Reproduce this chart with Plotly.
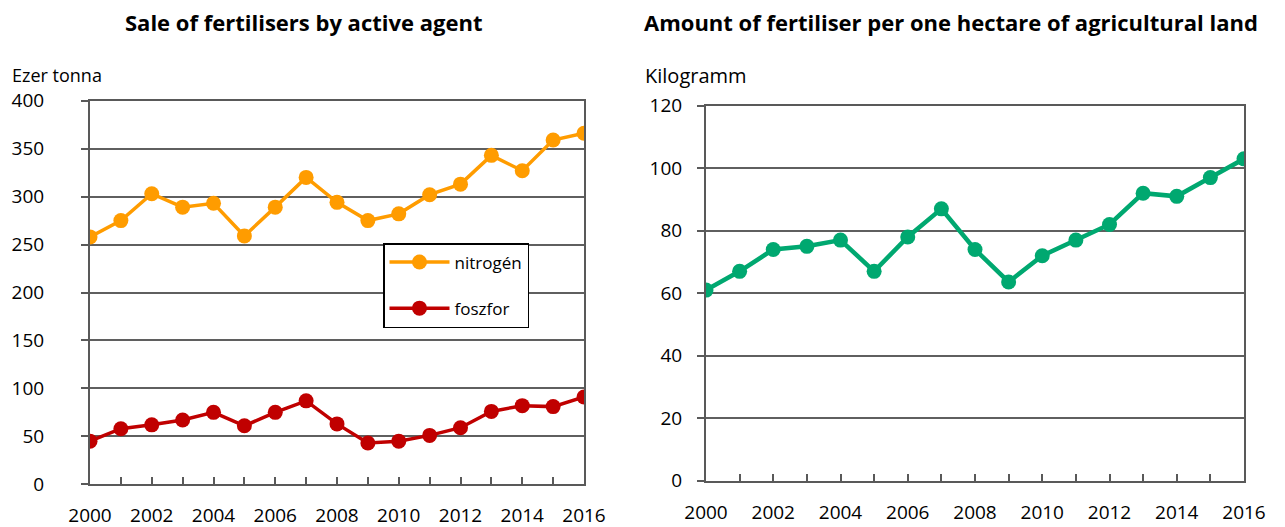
import plotly.graph_objects as go
from plotly.subplots import make_subplots

years = list(range(2000, 2017))
nitrogen = [258, 275, 303, 289, 293, 259, 289, 320, 294, 275, 282, 302, 313, 343, 327, 359, 366]
phosphorus = [45, 58, 62, 67, 75, 61, 75, 87, 63, 43, 45, 51, 59, 76, 82, 81, 91]
per_hectare = [61, 67, 74, 75, 77, 67, 78, 87, 74, 63.6, 72, 77, 82, 92, 91, 97, 103]

title_left = "Sale of fertilisers by active agent"
title_right = "Amount of fertiliser per one hectare of agricultural land"
unit_left = "Ezer tonna"
unit_right = "Kilogramm"

FONT = "Open Sans"
GRID = "#5f5f5f"
AXIS = "#595959"
W, H = 1285, 527

fig = make_subplots(rows=1, cols=2)

fig.add_trace(go.Scatter(x=years, y=nitrogen, name="nitrogén", mode="lines+markers",
                         line=dict(color="#FF9C00", width=3.5), marker=dict(size=15),
                         legendgroup="n"), row=1, col=1)
fig.add_trace(go.Scatter(x=years, y=phosphorus, name="foszfor", mode="lines+markers",
                         line=dict(color="#C00000", width=3.5), marker=dict(size=15),
                         legendgroup="p"), row=1, col=1)
fig.add_trace(go.Scatter(x=years, y=per_hectare, name="kg/ha", mode="lines+markers",
                         line=dict(color="#00A870", width=4.5), marker=dict(size=15),
                         showlegend=False), row=1, col=2)

xcommon = dict(range=[2000, 2016], dtick=2, tick0=2000, ticks="inside", ticklen=7,
               tickwidth=1.5, tickcolor=AXIS, showline=True, linecolor=AXIS, linewidth=2,
               mirror=True, showgrid=False, zeroline=False, automargin=False,
               minor=dict(dtick=1, ticks="inside", ticklen=7, tickcolor=AXIS, tickwidth=1.5),
               tickfont=dict(family=FONT, size=19, color="#000"))
ycommon = dict(ticks="outside", ticklen=7, tickwidth=1.5, tickcolor=AXIS, showline=True,
               linecolor=AXIS, linewidth=2, mirror=True, showgrid=True, gridcolor=GRID,
               gridwidth=1.5, zeroline=False, automargin=False,
               tickfont=dict(family=FONT, size=19, color="#000"))

fig.update_xaxes(**xcommon, ticklabelstandoff=13)
fig.update_xaxes(domain=[90 / W, 584 / W], row=1, col=1)
fig.update_xaxes(domain=[706 / W, 1244 / W], row=1, col=2)
fig.update_yaxes(**ycommon)
fig.update_yaxes(range=[0, 400], dtick=50, domain=[1 - 484.3 / H, 1 - 100.7 / H],
                 ticklabelstandoff=33, row=1, col=1)
fig.update_yaxes(range=[0, 120], dtick=20, domain=[1 - 480.7 / H, 1 - 105.7 / H],
                 ticklabelstandoff=11, row=1, col=2)

annotations = [
    dict(text="<b>" + title_left + "</b>", x=303 / W, y=1 - 22 / H, xanchor="center",
         yanchor="middle", font=dict(size=22)),
    dict(text="<b>" + title_right + "</b>", x=951 / W, y=1 - 22 / H, xanchor="center",
         yanchor="middle", font=dict(size=22)),
    dict(text=unit_left, x=10 / W, y=1 - 75 / H, xanchor="left", yanchor="middle",
         font=dict(size=18)),
    dict(text=unit_right, x=643 / W, y=1 - 75 / H, xanchor="left", yanchor="middle",
         font=dict(size=20)),
]
for a in annotations:
    a.update(xref="paper", yref="paper", showarrow=False)
    a["font"].update(family=FONT, color="#000")

fig.update_layout(
    width=W, height=H, margin=dict(l=0, r=0, t=0, b=0),
    paper_bgcolor="white", plot_bgcolor="white",
    annotations=annotations,
    legend=dict(x=383 / W, y=1 - 243 / H, xanchor="left", yanchor="top",
                bordercolor="#000", borderwidth=1.5, bgcolor="white",
                font=dict(family=FONT, size=17, color="#000"),
                tracegroupgap=21, itemwidth=60),
)

fig.write_html("out.html")
